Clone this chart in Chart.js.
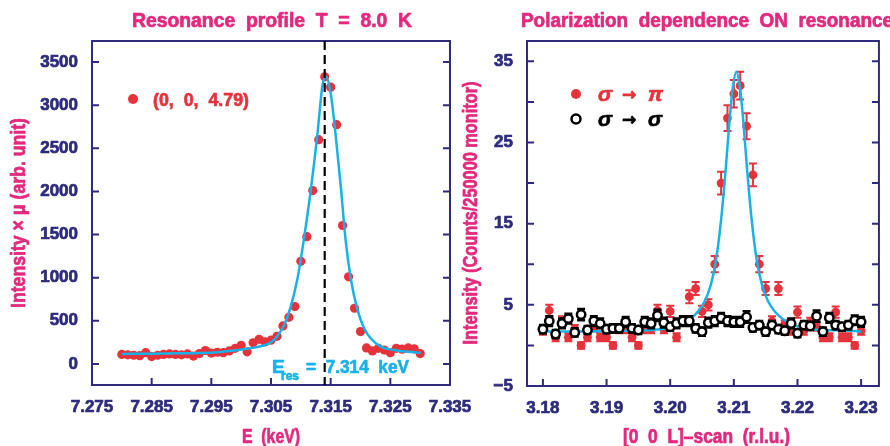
<!DOCTYPE html>
<html>
<head>
<meta charset="utf-8">
<script src="https://cdn.jsdelivr.net/npm/chart.js@4.4.1/dist/chart.umd.min.js"></script>
<style>
  body { margin: 0; background: #fff; }
  #wrap { position: relative; width: 890px; height: 446px; overflow: hidden; }
  canvas { position: absolute; left: 0; top: 0; }
</style>
</head>
<body>
<div id="wrap">
  <canvas id="left" width="890" height="446"></canvas>
  <canvas id="right" width="890" height="446"></canvas>
</div>
<script>
// ---- left panel: resonance profile ----
const energy = [7.280, 7.281, 7.282, 7.283, 7.284, 7.285, 7.286, 7.287, 7.288, 7.289,
  7.290, 7.291, 7.292, 7.293, 7.294, 7.295, 7.296, 7.297, 7.298, 7.299,
  7.300, 7.301, 7.302, 7.303, 7.304, 7.305, 7.306, 7.307, 7.308, 7.309,
  7.310, 7.311, 7.312, 7.313, 7.314, 7.315, 7.316, 7.317, 7.318, 7.319,
  7.320, 7.321, 7.322, 7.323, 7.324, 7.325, 7.326, 7.327, 7.328, 7.329, 7.330];
const intensity = [110, 105, 100, 95, 130, 85, 100, 110, 115, 110,
  105, 115, 90, 120, 155, 125, 135, 130, 150, 180,
  215, 140, 245, 285, 255, 275, 320, 440, 540, 665,
  1190, 1475, 2010, 2600, 3330, 3210, 2775, 1605, 1010, 645,
  375, 185, 150, 180, 160, 130, 180, 170, 185, 175, 120];
const fitE = [7.2800, 7.2850, 7.2900, 7.2932, 7.2960, 7.2988, 7.3010, 7.3033, 7.3050, 7.3060,
  7.3072, 7.3083, 7.3094, 7.3105, 7.3116, 7.3128, 7.3136, 7.3142, 7.3150, 7.3158,
  7.3167, 7.3175, 7.3184, 7.3195, 7.3206, 7.3217, 7.3234, 7.3256, 7.3280, 7.3301];
const fitI = [116, 118, 122, 126, 135, 155, 175, 205, 250, 317,
  452, 665, 975, 1440, 1980, 2676, 3217, 3333, 3140, 2676,
  2057, 1438, 975, 626, 414, 298, 200, 162, 140, 130];
const E_RES = 7.314;
const xTicksL = [7.275, 7.285, 7.295, 7.305, 7.315, 7.325, 7.335];
const yTicksL = [0, 500, 1000, 1500, 2000, 2500, 3000, 3500];

// ---- right panel: polarization dependence ----
const scanL = [3.180, 3.181, 3.182, 3.183, 3.184, 3.185, 3.186, 3.187, 3.188, 3.189,
  3.190, 3.191, 3.192, 3.193, 3.194, 3.195, 3.196, 3.197, 3.198, 3.199,
  3.200, 3.201, 3.202, 3.203, 3.204, 3.205, 3.206, 3.207, 3.208, 3.209,
  3.210, 3.211, 3.212, 3.213, 3.214, 3.215, 3.216, 3.217, 3.218, 3.219,
  3.220, 3.221, 3.222, 3.223, 3.224, 3.225, 3.226, 3.227, 3.228, 3.229, 3.230];
const sigmaPi = [1.8, 4.3, 1.0, 3.0, 1.0, 2.0, 0.0, 1.0, 2.2, 1.0,
  1.0, 0.0, 2.0, 2.0, 1.0, 0.0, 2.0, 2.0, 4.3, 2.0,
  4.2, 1.0, 3.0, 6.0, 7.0, 4.2, 5.0, 10, 20, 28,
  31, 32, 27, 21, 10, 7, 3.0, 7, 2.6, 1.8,
  4.1, 1.8, 2.8, 2.3, 1.0, 1.0, 4.1, 1.0, 1.0, 0.0, 1.8];
const sigmaPiErr = [0.5, 0.7, 0.5, 0.6, 0.5, 0.5, 0.4, 0.5, 0.5, 0.5,
  0.5, 0.4, 0.5, 0.5, 0.5, 0.4, 0.5, 0.5, 0.7, 0.5,
  0.7, 0.5, 0.6, 0.8, 0.8, 0.7, 0.7, 1.0, 1.4, 1.6,
  1.7, 1.7, 1.6, 1.4, 1.0, 0.8, 0.6, 0.8, 0.5, 0.5,
  0.7, 0.5, 0.6, 0.5, 0.5, 0.5, 0.7, 0.5, 0.5, 0.4, 0.5];
const sigmaSigma = [2.0, 3.0, 1.4, 2.7, 3.3, 1.6, 3.8, 1.9, 3.0, 2.7,
  2.0, 2.1, 2.1, 2.9, 2.1, 1.9, 2.9, 2.7, 3.7, 2.8,
  2.3, 2.7, 3.0, 3.0, 2.1, 1.7, 2.8, 3.0, 3.4, 3.0,
  2.9, 2.9, 3.5, 2.2, 2.5, 1.7, 2.5, 2.0, 1.8, 2.7,
  1.5, 2.5, 2.4, 3.6, 1.7, 3.4, 2.5, 2.3, 2.5, 3.1, 2.9];
const sigmaSigmaErr = [0.5, 0.6, 0.5, 0.6, 0.6, 0.5, 0.7, 0.5, 0.6, 0.6,
  0.5, 0.5, 0.5, 0.6, 0.5, 0.5, 0.6, 0.6, 0.7, 0.6,
  0.5, 0.6, 0.6, 0.6, 0.5, 0.5, 0.6, 0.6, 0.6, 0.6,
  0.6, 0.6, 0.7, 0.5, 0.5, 0.5, 0.5, 0.5, 0.5, 0.6,
  0.5, 0.5, 0.5, 0.7, 0.5, 0.6, 0.5, 0.5, 0.5, 0.6, 0.6];
const fitL = [3.1800, 3.1924, 3.1984, 3.2014, 3.2032, 3.2044, 3.2054, 3.2064, 3.2072, 3.2080,
  3.2087, 3.2093, 3.2098, 3.2104, 3.2110, 3.2115, 3.2121, 3.2128, 3.2136, 3.2144,
  3.2154, 3.2164, 3.2176, 3.2194, 3.2224, 3.2284, 3.2300];
const fitC = [1.7, 1.8, 2.0, 2.5, 3.3, 4.2, 5.4, 7.5, 10.5, 15.5,
  21.5, 27.5, 31.5, 33.7, 31.5, 27.5, 21.5, 15.5, 10.5, 7.5,
  5.4, 4.2, 3.3, 2.5, 2.0, 1.8, 1.7];
const xTicksR = [3.18, 3.19, 3.20, 3.21, 3.22, 3.23];
const yTicksR = [-5, 0, 5, 10, 15, 20, 25, 30, 35];
const yLabelsR = [-5, 5, 15, 25, 35];

const NAVY = "#2e2b7c";
const MAGENTA = "#e3287d";
const RED = "#e6323b";
const CYAN = "#19b2e8";
const FONT = '"Liberation Sans", Arial, sans-serif';

const pts = (xs, ys) => xs.map((x, i) => ({ x: x, y: ys[i] }));

// text helper: optional squeeze to a given width, optional rotation, optional centring
function drawText(ctx, s, x, y, size, color, o = {}) {
  ctx.save();
  ctx.font = (o.italic ? "italic " : "") + "bold " + size + "px " + (o.family || FONT);
  ctx.fillStyle = color;
  ctx.strokeStyle = color;
  ctx.lineWidth = 0.7;
  ctx.lineJoin = "round";
  ctx.textBaseline = "alphabetic";
  ctx.textAlign = "left";
  ctx.translate(x, y);
  if (o.rot) ctx.rotate(o.rot);
  const m = ctx.measureText(s).width;
  if (o.width) ctx.scale(o.width / m, 1);
  const x0 = o.center ? -m / 2 : 0;
  ctx.strokeText(s, x0, 0);
  ctx.fillText(s, x0, 0);
  ctx.restore();
}

const errorBars = {
  id: "errorBars",
  beforeDatasetDraw(chart, args) {
    const ds = chart.data.datasets[args.index];
    if (!ds.errors) return;
    const ctx = chart.ctx, y = chart.scales.y;
    ctx.save();
    ctx.strokeStyle = ds.errColor;
    ctx.lineWidth = ds.errWidth;
    ctx.beginPath();
    args.meta.data.forEach((pt, i) => {
      const v = ds.data[i].y, e = ds.errors[i];
      const t = y.getPixelForValue(v + e), b = y.getPixelForValue(v - e);
      ctx.moveTo(pt.x, t); ctx.lineTo(pt.x, b);
      ctx.moveTo(pt.x - 4, t); ctx.lineTo(pt.x + 4, t);
      ctx.moveTo(pt.x - 4, b); ctx.lineTo(pt.x + 4, b);
    });
    ctx.stroke();
    ctx.restore();
  }
};
Chart.register(errorBars);

function frame(xTicks, yTicks) {
  return {
    id: "frame",
    afterDatasetsDraw(chart) {
      const { ctx, chartArea: a, scales: { x, y } } = chart;
      ctx.save();
      ctx.strokeStyle = NAVY;
      ctx.lineWidth = 2;
      ctx.strokeRect(a.left, a.top, a.right - a.left, a.bottom - a.top);
      ctx.beginPath();
      yTicks.forEach(v => {
        const py = y.getPixelForValue(v);
        ctx.moveTo(a.left, py); ctx.lineTo(a.left + 7, py);
        ctx.moveTo(a.right, py); ctx.lineTo(a.right - 7, py);
      });
      xTicks.forEach(v => {
        const px = x.getPixelForValue(v);
        ctx.moveTo(px, a.bottom); ctx.lineTo(px, a.bottom - 7);
      });
      ctx.stroke();
      ctx.restore();
    }
  };
}

function axes(xMin, xMax, yMin, yMax, xTicks, yTicks, xFmt, yFmt, yWidth, xHeight) {
  const tickFont = { family: FONT, size: 17, weight: "bold" };
  const common = { color: NAVY, font: tickFont, autoSkip: false, textStrokeColor: NAVY, textStrokeWidth: 0.7 };
  return {
    x: {
      type: "linear", min: xMin, max: xMax,
      grid: { display: false, drawTicks: false }, border: { display: false },
      afterBuildTicks: s => { s.ticks = xTicks.map(v => ({ value: v })); },
      afterFit: s => { s.height = xHeight; },
      ticks: Object.assign({ padding: 12, maxRotation: 0, callback: xFmt }, common)
    },
    y: {
      type: "linear", min: yMin, max: yMax,
      grid: { display: false, drawTicks: false }, border: { display: false },
      afterBuildTicks: s => { s.ticks = yTicks.map(v => ({ value: v })); },
      afterFit: s => { s.width = yWidth; },
      ticks: Object.assign({ padding: 14, callback: yFmt }, common)
    }
  };
}

// ---------- left chart ----------
const leftText = {
  id: "leftText",
  afterDraw(chart) {
    const { ctx, chartArea: a, scales: { x } } = chart;
    // dashed resonance line
    const px = x.getPixelForValue(E_RES);
    ctx.save();
    ctx.strokeStyle = "#000";
    ctx.lineWidth = 2.2;
    ctx.setLineDash([9, 5]);
    ctx.beginPath();
    ctx.moveTo(px, a.top); ctx.lineTo(px, a.bottom);
    ctx.stroke();
    ctx.restore();

    drawText(ctx, "Resonance  profile  T  =  8.0  K", 132, 27, 20, MAGENTA, { width: 280 });
    drawText(ctx, "E  (keV)", 242, 443, 20, MAGENTA, { width: 58 });
    drawText(ctx, "Intensity × μ (arb. unit)", 25, 213, 20, MAGENTA, { rot: -Math.PI / 2, center: true, width: 190 });

    // legend
    ctx.save();
    ctx.fillStyle = RED;
    ctx.beginPath(); ctx.arc(133, 99, 5, 0, Math.PI * 2); ctx.fill();
    ctx.restore();
    drawText(ctx, "(0,  0,  4.79)", 153, 106, 19, RED, { width: 96 });

    // E_res annotation
    drawText(ctx, "E", 272, 373, 19, CYAN);
    drawText(ctx, "res", 281, 380, 12, CYAN);
    drawText(ctx, "=  7.314  keV", 306, 373, 19, CYAN, { width: 103 });
  }
};

new Chart(document.getElementById("left"), {
  type: "scatter",
  data: {
    datasets: [
      {
        data: pts(energy, intensity),
        pointRadius: 4.6, pointBackgroundColor: RED, pointBorderWidth: 0,
        order: 3
      },
      {
        data: pts(fitE, fitI),
        showLine: true, pointRadius: 0, borderColor: CYAN, borderWidth: 2.5,
        cubicInterpolationMode: "monotone", order: 2
      }
    ]
  },
  options: {
    responsive: false,
    animation: false,
    layout: { padding: { left: 0, top: 41, right: 440, bottom: 0 } },
    plugins: { legend: { display: false }, tooltip: { enabled: false } },
    scales: axes(7.275, 7.335, -245, 3745, xTicksL, yTicksL,
      v => v.toFixed(3), v => String(v), 92, 61)
  },
  plugins: [frame(xTicksL, yTicksL), leftText]
});

// ---------- right chart ----------
const rightText = {
  id: "rightText",
  afterDraw(chart) {
    const ctx = chart.ctx;
    drawText(ctx, "Polarization  dependence  ON  resonance", 521, 27, 20, MAGENTA, { width: 372 });
    drawText(ctx, "[0  0  L]–scan  (r.l.u.)", 623, 443, 20, MAGENTA, { width: 167 });
    drawText(ctx, "Intensity (Counts/250000 monitor)", 477, 213, 20, MAGENTA, { rot: -Math.PI / 2, center: true, width: 263 });

    // legend
    ctx.save();
    ctx.fillStyle = RED;
    ctx.beginPath(); ctx.arc(576, 94, 5, 0, Math.PI * 2); ctx.fill();
    ctx.fillStyle = "#fff";
    ctx.strokeStyle = "#000";
    ctx.lineWidth = 2.5;
    ctx.beginPath(); ctx.arc(576, 119, 4.5, 0, Math.PI * 2); ctx.fill(); ctx.stroke();
    ctx.restore();
    drawText(ctx, "σ", 598, 101, 21, RED, { italic: true });
    drawText(ctx, "→", 622, 100, 17, RED, { family: '"DejaVu Sans", sans-serif' });
    drawText(ctx, "π", 648, 101, 21, RED, { italic: true });
    drawText(ctx, "σ", 598, 126, 21, "#000", { italic: true });
    drawText(ctx, "→", 622, 125, 17, "#000", { family: '"DejaVu Sans", sans-serif' });
    drawText(ctx, "σ", 648, 126, 21, "#000", { italic: true });
  }
};

new Chart(document.getElementById("right"), {
  type: "scatter",
  data: {
    datasets: [
      {
        data: pts(scanL, sigmaPi),
        errors: sigmaPiErr, errColor: RED, errWidth: 2,
        pointRadius: 4.4, pointBackgroundColor: RED, pointBorderWidth: 0,
        order: 3
      },
      {
        data: pts(fitL, fitC),
        showLine: true, pointRadius: 0, borderColor: CYAN, borderWidth: 2.5,
        cubicInterpolationMode: "monotone", order: 2
      },
      {
        data: pts(scanL, sigmaSigma),
        errors: sigmaSigmaErr, errColor: "#000", errWidth: 2.5,
        pointRadius: 4.2, pointBackgroundColor: "#fff", pointBorderColor: "#000", pointBorderWidth: 2.5,
        order: 1
      }
    ]
  },
  options: {
    responsive: false,
    animation: false,
    layout: { padding: { left: 447, top: 41, right: 2, bottom: 0 } },
    plugins: { legend: { display: false }, tooltip: { enabled: false } },
    scales: axes(3.1775, 3.2328, -5, 37.5, xTicksR, yTicksR,
      v => v.toFixed(2), v => (yLabelsR.includes(v) ? String(v).replace("-", "\u2212") : ""), 80, 60)
  },
  plugins: [frame(xTicksR, yTicksR), rightText]
});
</script>
</body>
</html>
